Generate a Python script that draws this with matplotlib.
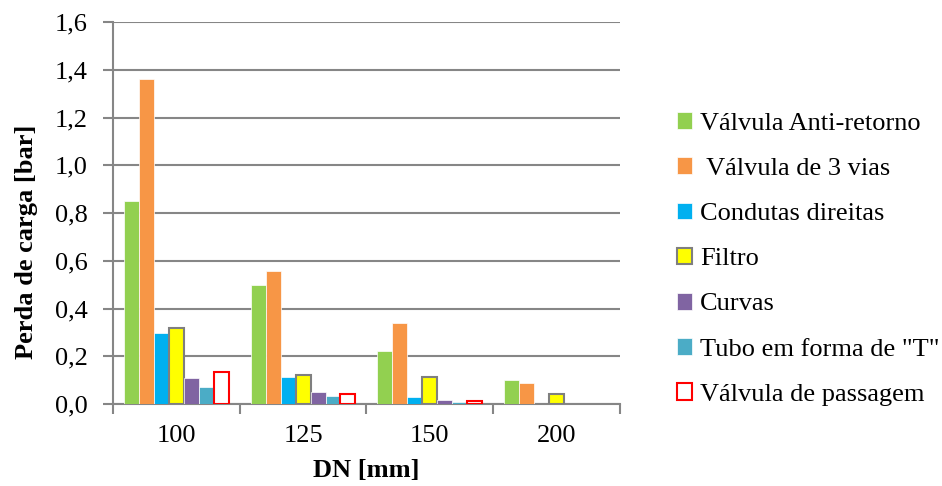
import matplotlib.pyplot as plt
import numpy as np

plt.rcParams['font.family'] = ['Liberation Serif', 'DejaVu Serif']

# Data
dn_labels = ['100', '125', '150', '200']
series_names = ['Válvula Anti-retorno', ' Válvula de 3 vias', 'Condutas direitas',
                'Filtro', 'Curvas', 'Tubo em forma de "T"', 'Válvula de passagem']
anti_retorno = [0.85, 0.50, 0.22, 0.10]
tres_vias = [1.36, 0.557, 0.34, 0.087]
condutas = [0.297, 0.112, 0.029, 0.0]
filtro = [0.318, 0.123, 0.112, 0.04]
curvas = [0.109, 0.05, 0.018, 0.0]
tubo_t = [0.071, 0.034, 0.01, 0.0]
passagem = [0.133, 0.043, 0.011, 0.0]

values = [anti_retorno, tres_vias, condutas, filtro, curvas, tubo_t, passagem]
faces = ['#92D050', '#F79646', '#00B0F0', '#FFFF00', '#8064A2', '#4BACC6', 'white']
edges = ['white', 'white', 'white', '#7F7F7F', 'white', 'white', '#FF0000']
lws = [0.5, 0.5, 0.5, 1.5, 0.5, 0.5, 1.5]

fig = plt.figure(figsize=(9.42, 4.86), dpi=100)
ax = fig.add_axes([0.12, 0.1687, 0.538, 0.786])

x = np.arange(len(dn_labels))
w = 0.118
start = -3 * w
handles = []
for i, vals in enumerate(values):
    b = ax.bar(x + start + i * w, vals, width=w, color=faces[i], edgecolor=edges[i],
               linewidth=lws[i], label=series_names[i], zorder=3)
    # hide empty bars (no outline at zero)
    for patch, v in zip(b, vals):
        if v == 0:
            patch.set_visible(False)
    handles.append(b)

ax.set_xlim(-0.5, len(dn_labels) - 0.5)
ax.set_ylim(0, 1.6)
ax.set_yticks(np.arange(0, 1.61, 0.2))
ax.set_yticklabels([f'{v:.1f}'.replace('.', ',') for v in np.arange(0, 1.61, 0.2)])
ax.set_xticks(x)
ax.set_xticklabels(dn_labels)
ax.set_xticks(np.arange(-0.5, len(dn_labels), 1), minor=True)
ax.tick_params(axis='x', which='major', length=0, pad=15, labelsize=19)
ax.tick_params(axis='x', which='minor', length=7, width=1.5, color='#868686')
ax.tick_params(axis='y', length=7, width=1.5, color='#868686', labelsize=19, pad=11)

ax.grid(axis='y', color='#868686', linewidth=1.5, zorder=0)
for s in ['top', 'right']:
    ax.spines[s].set_visible(False)
for s in ['left', 'bottom']:
    ax.spines[s].set_color('#868686')
    ax.spines[s].set_linewidth(1.5)

ax.set_ylabel('Perda de carga [bar]', fontsize=19, fontweight='bold')
ax.yaxis.set_label_coords(-0.148, 0.424)
ax.set_xlabel('DN [mm]', fontsize=19, fontweight='bold', labelpad=9)

fig.legend(handles=handles, loc='center left', bbox_to_anchor=(0.707, 0.467),
           frameon=False, fontsize=19, handlelength=0.6, handleheight=0.6,
           handletextpad=0.3, labelspacing=0.85, borderaxespad=0)

fig.savefig('out.png', dpi=100)
